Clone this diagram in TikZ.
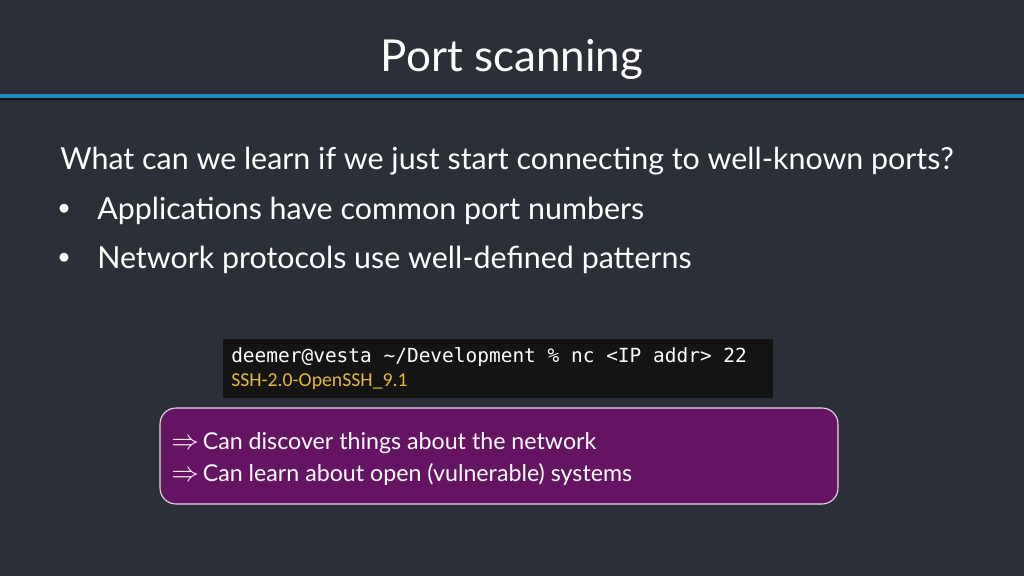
\documentclass[tikz,border=0pt]{standalone}
\usepackage{fontspec}
\setmainfont{Lato}
\newfontfamily\monof{DejaVu Sans Mono}
\newfontfamily\carl{Carlito}
\definecolor{bg}{HTML}{2B3038}
\definecolor{rule}{HTML}{1E88C0}
\definecolor{purp}{HTML}{651464}
\definecolor{ssh}{HTML}{E8B840}
\begin{document}
\begin{tikzpicture}[x=0.75pt,y=-0.75pt,
  body/.style={anchor=west,text=white,font=\fontsize{22.8}{27}\selectfont,inner sep=0},
  small/.style={anchor=west,text=white,font=\fontsize{17.4}{20}\selectfont,inner sep=0}]
\fill[bg] (0,0) rectangle (1024,576);
\useasboundingbox (0,0) rectangle (1024,576);
\fill[rule] (0,94) rectangle (1024,98);
\fill[black!60!bg] (0,98) rectangle (1024,100);
\node[text=white,font=\fontsize{33}{40}\selectfont] (title) at (512,59) {Port scanning};
\node[body] (q) at (60,161) {What can we learn if we just start connecting to well-known ports?};
\node[body,font=\fontsize{16}{20}\selectfont] (b1d) at (58,209) {$\bullet$};
\node[body] (b1) at (97,211) {Applications have common port numbers};
\node[body,font=\fontsize{16}{20}\selectfont] (b2d) at (58,258) {$\bullet$};
\node[body] (b2) at (97,260) {Network protocols use well-defined patterns};
\fill[black!92] (223,339) rectangle (773,398);
\node[anchor=west,text=white,inner sep=0,font=\monof\fontsize{14.6}{17}\selectfont] (cmd) at (231,357) {deemer@vesta \textasciitilde/Development \% nc <IP addr> 22};
\node[anchor=west,text=ssh,inner sep=0,font=\carl\fontsize{14.8}{17}\selectfont] (out) at (231,382) {SSH-2.0-OpenSSH\_9.1};
\draw[purp,fill=purp,rounded corners=12,draw=white!85!purp,line width=0.8] (160,408) rectangle (838,504);
\node[small] (c1) at (171,443) {{\fontsize{20}{20}\selectfont$\Rightarrow$}\,Can discover things about the network};
\node[small] (c2) at (171,474) {{\fontsize{20}{20}\selectfont$\Rightarrow$}\,Can learn about open (vulnerable) systems};
\end{tikzpicture}
\end{document}
